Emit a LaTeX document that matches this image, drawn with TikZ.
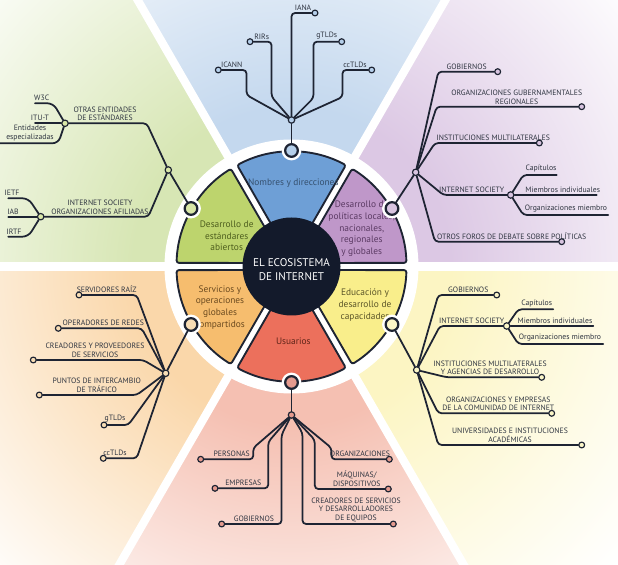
\documentclass[tikz,border=0pt]{standalone}
\usepackage{fontspec}
\setmainfont{PT Sans}
\usetikzlibrary{positioning}

\definecolor{ink}{HTML}{1E2433}
\definecolor{lab}{HTML}{2E3440}
\definecolor{core}{HTML}{131A2B}
\definecolor{segB}{HTML}{6E9FD6}
\definecolor{segP}{HTML}{BF97C9}
\definecolor{segG}{HTML}{BDD46D}
\definecolor{segO}{HTML}{F6BD6E}
\definecolor{segR}{HTML}{EC705C}
\definecolor{segY}{HTML}{F9EE8B}
\definecolor{bgB}{HTML}{C4D8EE}
\definecolor{bgP}{HTML}{DCC8E4}
\definecolor{bgG}{HTML}{D7E6B4}
\definecolor{bgO}{HTML}{FAD7AA}
\definecolor{bgR}{HTML}{F5C0B2}
\definecolor{bgY}{HTML}{FCF5C3}
\definecolor{dotB}{HTML}{B5CFEA}
\definecolor{dotP}{HTML}{D8C4E0}
\definecolor{dotG}{HTML}{D9E7A8}
\definecolor{dotO}{HTML}{F8DDB5}
\definecolor{dotR}{HTML}{E59A8E}
\definecolor{dotY}{HTML}{FBF6C8}
\definecolor{txB}{HTML}{35506E}
\definecolor{txP}{HTML}{5B3A63}
\definecolor{txG}{HTML}{4E5E1E}
\definecolor{txO}{HTML}{6B4A1F}
\definecolor{txR}{HTML}{5E2418}
\definecolor{txY}{HTML}{5B5528}
\colorlet{fadecol}{white}
\pgfdeclareradialshading[fadecol]{wedgefade}{\pgfpointorigin}{color(0bp)=(fadecol); color(9bp)=(fadecol); color(25bp)=(white); color(50bp)=(white)}

\begin{document}
\begin{tikzpicture}[x=0.03cm, y=0.03cm, line cap=round, line join=round,
	branch/.style={draw=ink, line width=1.5pt, rounded corners=3pt},
	sector/.style={draw=ink, line width=1.6pt, rounded corners=2pt},
	rim/.style={circle, draw=ink, line width=1.9pt, minimum size=10.8pt, inner sep=0pt, preaction={draw=white, line width=6pt}},
	hub/.style={circle, draw=ink, line width=1pt, minimum size=5.5pt, inner sep=0pt},
	dot/.style={circle, draw=ink, line width=1pt, minimum size=5pt, inner sep=0pt},
	lbl/.style={font=\fontsize{6.6}{7.3}\selectfont, text=lab, align=center, anchor=south, inner sep=0.8pt},
	seg/.style={font=\fontsize{8}{10}\selectfont, align=center, inner sep=0pt}]

\useasboundingbox (0,0) rectangle (618,565);
\clip (0,0) rectangle (618,565);
\coordinate (C) at (291.5,298.5);

\foreach \a/\col in {0/bgP, 60/bgB, 120/bgG, 180/bgO, 240/bgR, 300/bgY}{
	\begin{scope}
		\colorlet{fadecol}{\col}
		\clip (C) -- +(\a:900) -- +(\a+30:900) -- +(\a+60:900) -- cycle;
		\shade[shading=wedgefade] (C) circle (440);
	\end{scope}
}
\foreach \a in {0,60,120}
	\draw[white, line width=7pt] (C) +(\a:900) -- +(\a+180:900);
\fill[white] (C) circle (127);

\begin{scope}[shift={(C)}]
\foreach \a/\col in {0/segP, 60/segB, 120/segG, 180/segO, 240/segR, 300/segY}
	\filldraw[sector, fill=\col] (\a+30:7) -- (\a+1.8:115) arc[start angle=\a+1.8, end angle=\a+58.2, radius=115] -- cycle;
\fill[core] (0,0) circle (49);
\end{scope}

\node[font=\fontsize{9.5}{12}\selectfont, text=white, align=center]	(eco)	at (291.5,295.5)	{EL ECOSISTEMA\\DE INTERNET};
\node[seg, text=txB]	(nB)	at (293.3,382.3)	{Nombres y direcciones};
\node[seg, text=txP]	(nP)	at (361.7,336.3)	{Desarrollo de\\políticas locales,\\nacionales,\\regionales\\y globales};
\node[seg, text=txG]	(nG)	at (226.7,329)		{Desarrollo de\\estándares\\abiertos};
\node[seg, text=txO]	(nO)	at (220,257.7)		{Servicios y\\operaciones\\globales\\compartidos};
\node[seg, text=txY]	(nY)	at (365,260)		{Educación y\\desarrollo de\\capacidades};
\node[seg, text=txR]	(nR)	at (293.3,223.3)	{Usuarios};

% nombres y direcciones
\node[rim, fill=dotB]	(rT)	at (291.5,414.5)	{};
\node[hub, fill=dotB]	(hT)	at (291.5,445)		{};
\node[dot, fill=dotB]	(iana)	at (315,552)		{};
\node[dot, fill=dotB]	(rirs)	at (250,523.3)		{};
\node[dot, fill=dotB]	(icann)	at (218.3,495)		{};
\node[dot, fill=dotB]	(gtld)	at (341.7,523.3)	{};
\node[dot, fill=dotB]	(cctld)	at (371.7,495)		{};

\draw[branch]	(hT) -- (rT);
\draw[branch]	(hT) |- (iana);
\draw[branch]	(hT) -- ++(-20,23.3) |- (rirs);
\draw[branch]	(hT) -- ++(-45,25) |- (icann);
\draw[branch]	(hT) -- ++(22,22) |- (gtld);
\draw[branch]	(hT) -- ++(51,23) |- (cctld);

\node[lbl]	(tIana)		at (303,553.3)		{IANA};
\node[lbl]	(tRirs)		at (261.7,524.6)	{RIRs};
\node[lbl]	(tIcann)	at (231.7,496.3)	{ICANN};
\node[lbl]	(tGtld)		at (326.7,524.6)	{gTLDs};
\node[lbl]	(tCctld)	at (355,496.3)		{ccTLDs};

% estandares abiertos
\node[rim, fill=dotG]	(rG)	at (191,356.5)		{};
\node[hub, fill=dotG]	(hG)	at (168.3,395)		{};
\node[hub, fill=dotG]	(sG1)	at (65,441.7)		{};
\node[hub, fill=dotG]	(sG2)	at (40.7,348.3)		{};
\coordinate	(w3c)		at (35,461.7);
\coordinate	(itut)		at (35,441.7);
\coordinate	(entesp)	at (0,421.7);
\coordinate	(ietf)		at (8.3,366.7);
\coordinate	(iab)		at (8.3,348.3);
\coordinate	(irtf)		at (8.3,328.3);

\draw[branch]	(hG) -- (rG);
\draw[branch]	(hG) -- ++(-21.6,46.7) -- (sG1);
\draw[branch]	(hG) -- ++(-20,-46.7) -- (sG2);
\draw[branch, rounded corners=5pt]	(sG1) -- ++(-11.7,20) -- (w3c);
\draw[branch]	(sG1) -- (itut);
\draw[branch, rounded corners=5pt]	(sG1) -- ++(-6.7,-20) -- (entesp);
\draw[branch, rounded corners=5pt]	(sG2) -- ++(-12.4,18.4) -- (ietf);
\draw[branch]	(sG2) -- (iab);
\draw[branch, rounded corners=5pt]	(sG2) -- ++(-12.4,-20) -- (irtf);

\node[lbl]	(tOtras)	at (105,443)		{OTRAS ENTIDADES\\DE ESTÁNDARES};
\node[lbl]	(tW3c)		at (41.7,463)		{W3C};
\node[lbl]	(tItut)		at (40,443)			{ITU-T};
\node[lbl]	(tEnt)		at (30,423)			{Entidades\\especializadas};
\node[lbl]	(tIsocG)	at (100,349.6)		{INTERNET SOCIETY\\ORGANIZACIONES AFILIADAS};
\node[lbl]	(tIetf)		at (12,368)			{IETF};
\node[lbl]	(tIab)		at (13,349.6)		{IAB};
\node[lbl]	(tIrtf)		at (14,329.6)		{IRTF};

% politicas
\node[rim, fill=dotP]	(rP)	at (392,356.5)		{};
\node[hub, fill=dotP]	(hP)	at (415.7,392.7)	{};
\node[hub, fill=dotP]	(sP)	at (510.7,370)		{};
\node[dot, fill=dotP]	(gobP)	at (497.7,493.3)	{};
\node[dot, fill=dotP]	(orgP)	at (581.7,458.3)	{};
\node[dot, fill=dotP]	(instP)	at (539.3,422)		{};
\node[dot, fill=dotP]	(forP)	at (561.7,323.3)	{};
\coordinate	(capP)	at (556.7,390);
\coordinate	(miemP)	at (596.7,370);
\coordinate	(orgmP)	at (608.3,350);

\draw[branch]	(hP) -- (rP);
\draw[branch]	(hP) -- ++(22.6,100.6) -- (gobP);
\draw[branch]	(hP) -- ++(21,65.6) -- (orgP);
\draw[branch]	(hP) -- ++(19.3,29.3) -- (instP);
\draw[branch]	(hP) -- ++(27.6,-22.7) -- (sP);
\draw[branch]	(hP) -- ++(19.3,-69.4) -- (forP);
\draw[branch]	(sP) -- ++(12.6,20) -- (capP);
\draw[branch]	(sP) -- (miemP);
\draw[branch]	(sP) -- ++(12.6,-20) -- (orgmP);

\node[lbl]	(tGobP)		at (466.7,494.6)	{GOBIERNOS};
\node[lbl]	(tOrgP)		at (516.7,459.6)	{ORGANIZACIONES GUBERNAMENTALES\\REGIONALES};
\node[lbl]	(tInstP)	at (493.3,423.3)	{INSTITUCIONES MULTILATERALES};
\node[lbl]	(tIsocP)	at (471.7,371.3)	{INTERNET SOCIETY};
\node[lbl]	(tCapP)		at (541,391.3)		{Capítulos};
\node[lbl]	(tMiemP)	at (562.7,371.3)	{Miembros individuales};
\node[lbl]	(tOrgmP)	at (566,351.3)		{Organizaciones miembro};
\node[lbl]	(tForP)		at (511.7,324.6)	{OTROS FOROS DE DEBATE SOBRE POLÍTICAS};

% educacion
\node[rim, fill=dotY]	(rY)	at (392,240.5)		{};
\node[hub, fill=dotY]	(hY)	at (416.7,195)		{};
\node[hub, fill=dotY]	(sY)	at (506.7,239)		{};
\node[dot, fill=dotY]	(gobY)	at (496.7,270)		{};
\node[dot, fill=dotY]	(instY)	at (541.7,187.7)	{};
\node[dot, fill=dotY]	(orgY)	at (551.7,151.7)	{};
\node[dot, fill=dotY]	(uniY)	at (581.7,120)		{};
\coordinate	(capY)	at (553.3,255.7);
\coordinate	(miemY)	at (593.3,239);
\coordinate	(orgmY)	at (603.3,221);

\draw[branch]	(hY) -- (rY);
\draw[branch]	(hY) -- ++(21.6,75) -- (gobY);
\draw[branch]	(hY) -- ++(23.3,44) -- (sY);
\draw[branch]	(hY) -- ++(30,-7.3) -- (instY);
\draw[branch]	(hY) -- ++(21.6,-43.3) -- (orgY);
\draw[branch]	(hY) -- ++(21.6,-75) -- (uniY);
\draw[branch]	(sY) -- ++(11.6,16.7) -- (capY);
\draw[branch]	(sY) -- (miemY);
\draw[branch]	(sY) -- ++(11.6,-18) -- (orgmY);

\node[lbl]	(tGobY)		at (468.3,271.3)	{GOBIERNOS};
\node[lbl]	(tIsocY)	at (471.7,240.3)	{INTERNET SOCIETY};
\node[lbl]	(tCapY)		at (536.7,257)		{Capítulos};
\node[lbl]	(tMiemY)	at (555,240.3)		{Miembros individuales};
\node[lbl]	(tOrgmY)	at (560,222.3)		{Organizaciones miembro};
\node[lbl]	(tInstY)	at (490,189)		{INSTITUCIONES MULTILATERALES\\Y AGENCIAS DE DESARROLLO};
\node[lbl]	(tOrgY)		at (498.3,153)		{ORGANIZACIONES Y EMPRESAS\\DE LA COMUNIDAD DE INTERNET};
\node[lbl]	(tUniY)		at (510,121.3)		{UNIVERSIDADES E INSTITUCIONES\\ACADÉMICAS};

% servicios
\node[rim, fill=dotO]	(rO)	at (191,240.5)		{};
\node[hub, fill=dotO]	(hO)	at (165.7,191.7)	{};
\node[dot, fill=dotO]	(srvO)	at (79,270)			{};
\node[dot, fill=dotO]	(opO)	at (58.3,236.7)		{};
\node[dot, fill=dotO]	(creO)	at (33.3,205)		{};
\node[dot, fill=dotO]	(ptoO)	at (39.3,170)		{};
\node[dot, fill=dotO]	(gtO)	at (104,140)		{};
\node[dot, fill=dotO]	(ccO)	at (103.3,106.7)	{};

\draw[branch]	(hO) -- (rO);
\draw[branch]	(hO) -- ++(-29,78.3) -- (srvO);
\draw[branch]	(hO) -- ++(-24,45) -- (opO);
\draw[branch]	(hO) -- ++(-22.4,13.3) -- (creO);
\draw[branch]	(hO) -- ++(-29,-21.7) -- (ptoO);
\draw[branch]	(hO) -- ++(-37.4,-51.7) -- (gtO);
\draw[branch]	(hO) -- ++(-29,-85) -- (ccO);

\node[lbl]	(tSrvO)		at (106.7,271.3)	{SERVIDORES RAÍZ};
\node[lbl]	(tOpO)		at (103.3,238)		{OPERADORES DE REDES};
\node[lbl]	(tCreO)		at (95,206.3)		{CREADORES Y PROVEEDORES\\DE SERVICIOS};
\node[lbl]	(tPtoO)		at (96.7,171.3)		{PUNTOS DE INTERCAMBIO\\DE TRÁFICO};
\node[lbl]	(tGtO)		at (115,141.3)		{gTLDs};
\node[lbl]	(tCcO)		at (115,108)		{ccTLDs};

% usuarios
\node[rim, fill=dotR]	(rR)	at (291.5,182.5)	{};
\node[hub, fill=dotR]	(hR)	at (291.5,150)		{};
\node[dot, fill=dotR]	(perR)	at (200.7,105.7)	{};
\node[dot, fill=dotR]	(empR)	at (215,76.7)		{};
\node[dot, fill=dotR]	(gobR)	at (221.7,41)		{};
\node[dot, fill=dotR]	(creR)	at (393.3,41)		{};
\node[dot, fill=dotR]	(maqR)	at (388.3,76)		{};
\node[dot, fill=dotR]	(orgR)	at (389.3,105.7)	{};

\draw[branch]	(hR) -- (rR);
\draw[branch]	(hR) -- ++(-38.3,-33) |- (perR);
\draw[branch]	(hR) -- ++(-23.3,-27) |- (empR);
\draw[branch]	(hR) -- ++(-10,-20) |- (gobR);
\draw[branch]	(hR) -- ++(11,-18) |- (creR);
\draw[branch]	(hR) -- ++(23.3,-25) |- (maqR);
\draw[branch]	(hR) -- ++(40,-33) |- (orgR);

\node[lbl]	(tPerR)		at (231.7,107)		{PERSONAS};
\node[lbl]	(tEmpR)		at (243.3,78)		{EMPRESAS};
\node[lbl]	(tGobR)		at (254,42.3)		{GOBIERNOS};
\node[lbl]	(tCreR)		at (356,42.3)		{CREADORES DE SERVICIOS\\Y DESARROLLADORES\\DE EQUIPOS};
\node[lbl]	(tMaqR)		at (356.7,77.3)		{MÁQUINAS/\\DISPOSITIVOS};
\node[lbl]	(tOrgR)		at (360,107)		{ORGANIZACIONES};

\end{tikzpicture}
\end{document}
